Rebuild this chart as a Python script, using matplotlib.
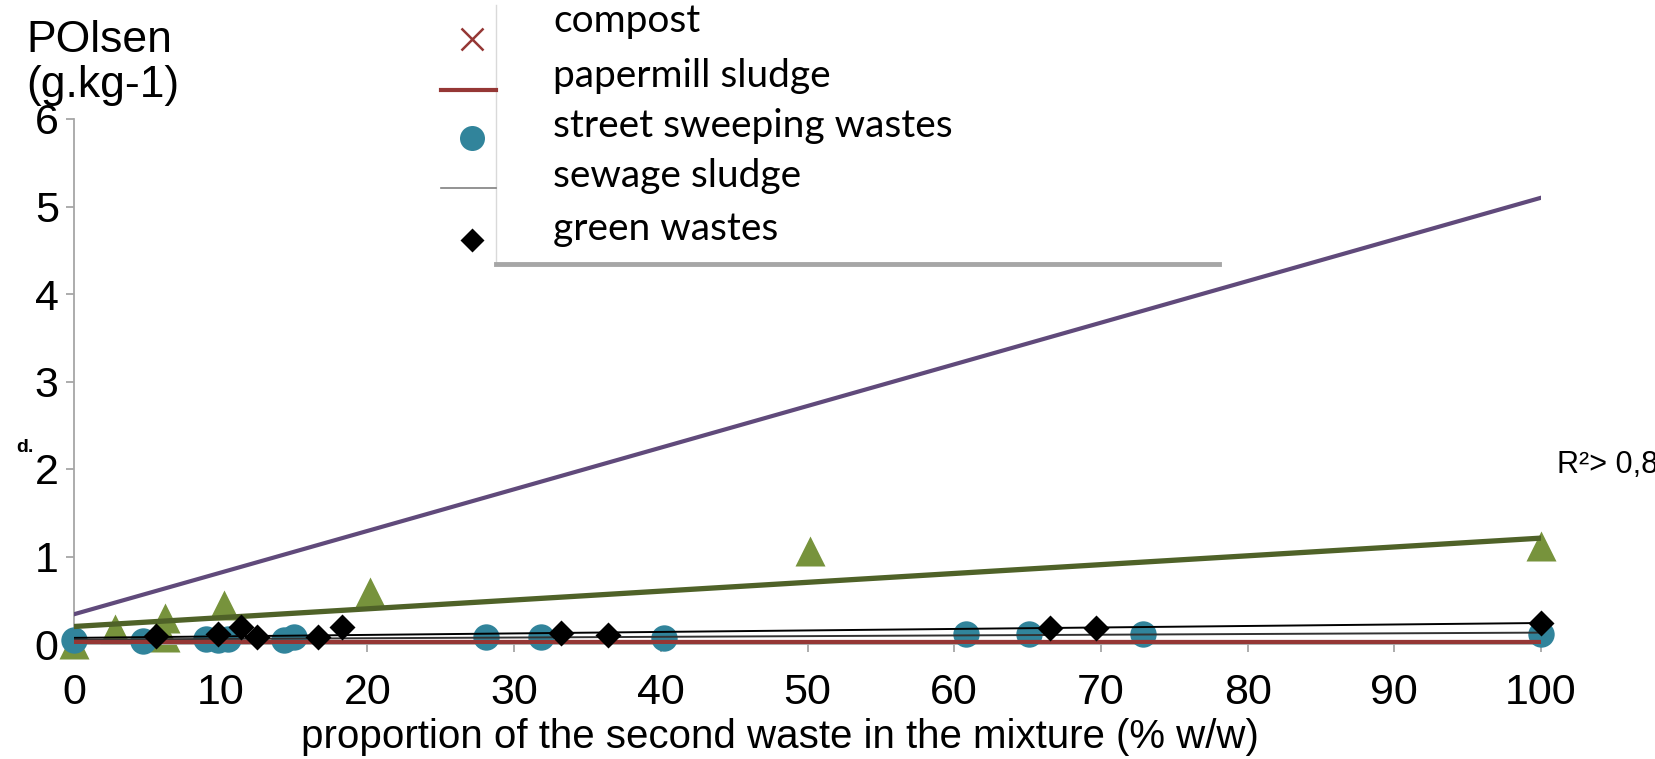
import matplotlib.pyplot as plt
from matplotlib.patches import Rectangle

# Données lues sur le graphique
# droites de tendance (x = 0 et x = 100)
trend_x = [0, 100]
purple_y = [0.34, 5.10]
green_line_y = [0.20, 1.21]
black_line_y = [0.07, 0.24]
grey_line_y = [0.05, 0.13]
red_line_y = [0.015, 0.015]

# triangles verts
tri_x = [0, 2.8, 6.2, 6.2, 10.2, 20.2, 50.2, 100]
tri_y = [0.0, 0.17, 0.30, 0.08, 0.45, 0.59, 1.06, 1.12]

# cercles (street sweeping wastes)
circ_x = [0, 4.7, 9.0, 9.8, 10.5, 14.3, 15.0, 28.1, 31.8, 40.2, 60.8, 65.1, 72.9, 100]
circ_y = [0.05, 0.04, 0.06, 0.05, 0.06, 0.05, 0.08, 0.08, 0.08, 0.07, 0.11, 0.11, 0.11, 0.11]

# losanges (green wastes)
diam_x = [5.6, 9.8, 11.4, 12.5, 16.6, 18.3, 33.2, 36.4, 66.5, 69.7, 100]
diam_y = [0.09, 0.12, 0.19, 0.08, 0.08, 0.19, 0.13, 0.10, 0.18, 0.18, 0.24]

legend_labels = ['compost', 'papermill sludge', 'street sweeping wastes',
                 'sewage sludge', 'green wastes']

x_ticks = list(range(0, 101, 10))
y_ticks = list(range(0, 7))

plt.rcParams['font.family'] = ['Liberation Sans', 'DejaVu Sans']

W, H = 1655, 759
fig = plt.figure(figsize=(W / 100, H / 100), dpi=100)
ax = fig.add_axes([74 / W, 1 - 644 / H, 1467 / W, 525 / H])

# droites
ax.plot(trend_x, purple_y, color='#604A7B', lw=3, zorder=4)
ax.plot(trend_x, green_line_y, color='#4F6228', lw=3.8, zorder=4)
ax.plot(trend_x, black_line_y, color='black', lw=1.4, zorder=4)
ax.plot(trend_x, grey_line_y, color='#333333', lw=1.4, zorder=4)
ax.plot(trend_x, red_line_y, color='#953735', lw=4.5, zorder=4, solid_capstyle='butt')

# points
ax.plot(tri_x, tri_y, '^', color='#77933C', ms=21, mec='none', zorder=2, clip_on=False)
ax.plot(circ_x, circ_y, 'o', color='#31849B', ms=19, mec='none', zorder=3, clip_on=False)
ax.plot(diam_x, diam_y, 'D', color='black', ms=13, mec='none', zorder=5, clip_on=False)

ax.set_xlim(0, 100)
ax.set_ylim(0, 6)
ax.set_xticks(x_ticks)
ax.set_yticks(y_ticks)
for s in ['top', 'right']:
    ax.spines[s].set_visible(False)
for s in ['left', 'bottom']:
    ax.spines[s].set_color('#A6A6A6')
    ax.spines[s].set_linewidth(1.3)
ax.tick_params(axis='both', direction='out', length=6, width=1.3, color='#A6A6A6', labelsize=31)
ax.tick_params(axis='x', pad=15)
ax.tick_params(axis='y', pad=5)

fig.text(780 / W, 1 - 737 / H, 'proportion of the second waste in the mixture (% w/w)',
         fontsize=29, va='center', ha='center')

fig.text(26 / W, 1 - 41 / H, 'POlsen', fontsize=32, va='center', ha='left')
fig.text(26 / W, 1 - 85 / H, '(g.kg-1)', fontsize=32, va='center', ha='left')
fig.text(1557 / W, 1 - 465 / H, 'R²> 0,8', fontsize=22, va='center', ha='left')
fig.text(16 / W, 1 - 447 / H, 'd.', fontsize=14, fontweight='bold', va='center', ha='left')

# légende dessinée à la main (coordonnées en pixels)
lax = fig.add_axes([0, 0, 1, 1], zorder=10)
lax.set_xlim(0, W)
lax.set_ylim(H, 0)
lax.axis('off')
lax.add_patch(Rectangle((496, 5), 723, 259, facecolor='white', edgecolor='none'))
lax.plot([496, 496], [5, 262], color='#D9D9D9', lw=1)
lax.plot([496, 1219], [264, 264], color='#A6A6A6', lw=3.5)

text_y = [21, 76, 126, 176, 229]
for lab, ty in zip(legend_labels, text_y):
    lax.text(553, ty, lab, fontsize=28, family=['Lato', 'DejaVu Sans'], va='center', ha='left')
mx = 472
lax.plot([mx], [39], 'x', color='#953735', ms=16, mew=1.8)
lax.plot([441, 496], [90, 90], color='#953735', lw=3)
lax.plot([mx], [138], 'o', color='#31849B', ms=18, mec='none')
lax.plot([441, 496], [188, 188], color='#808080', lw=1.2)
lax.plot([mx], [240], 'D', color='black', ms=12, mec='none')

fig.savefig('out.png', dpi=100)
